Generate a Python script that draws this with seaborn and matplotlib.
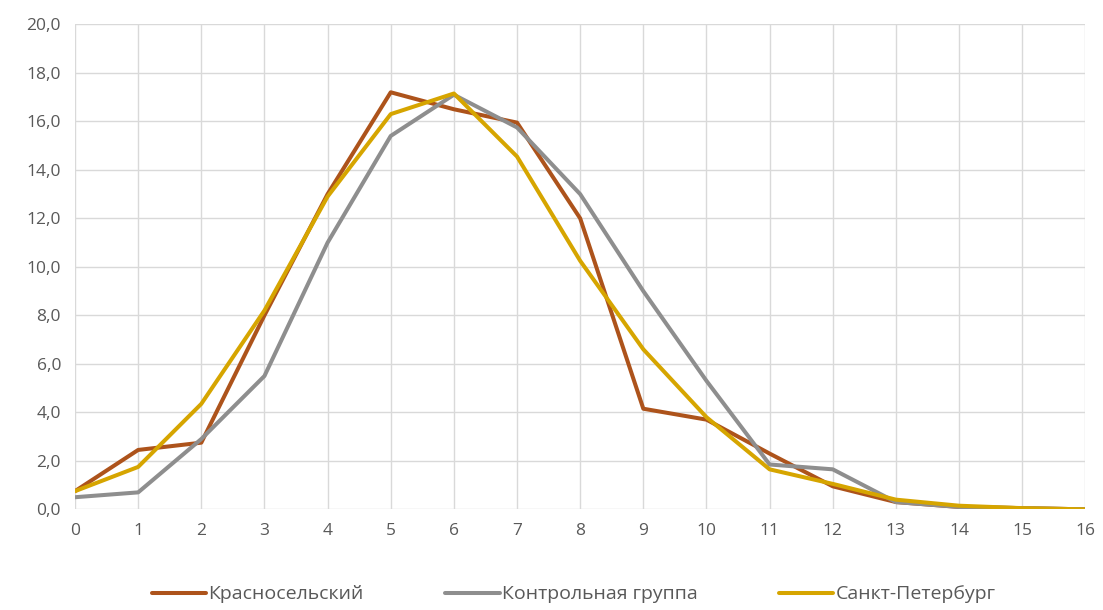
import pandas as pd
import matplotlib.pyplot as plt
import seaborn as sns
from matplotlib.ticker import FuncFormatter

# Данные
x_vals = list(range(17))
krasnoselsky = [0.75, 2.45, 2.75, 8.0, 13.0, 17.2, 16.5, 15.95, 12.0, 4.15, 3.7, 2.3, 0.95, 0.3, 0.1, 0.05, 0.0]
kontrol = [0.5, 0.7, 2.9, 5.5, 11.0, 15.4, 17.1, 15.75, 13.0, 9.0, 5.3, 1.85, 1.65, 0.3, 0.1, 0.05, 0.0]
spb = [0.75, 1.75, 4.35, 8.2, 12.9, 16.3, 17.15, 14.55, 10.25, 6.6, 3.8, 1.65, 1.05, 0.4, 0.15, 0.05, 0.0]

names = ['Красносельский', 'Контрольная группа', 'Санкт-Петербург']
colors = ['#AD531B', '#8E8E8E', '#D6A500']

df = pd.DataFrame({
    'x': x_vals * 3,
    'value': krasnoselsky + kontrol + spb,
    'series': [names[0]] * 17 + [names[1]] * 17 + [names[2]] * 17,
})

sns.set_style('white')
plt.rcParams['font.family'] = ['Open Sans', 'DejaVu Sans']

fig, ax = plt.subplots(figsize=(11.03, 6.10), dpi=100)
fig.subplots_adjust(left=0.068, right=0.984, top=0.96, bottom=0.165)

sns.lineplot(data=df, x='x', y='value', hue='series', hue_order=names,
             palette=colors, linewidth=2.9, ax=ax, legend=False)

ax.set_xlim(0, 16)
ax.set_ylim(0, 20)
ax.set_xticks(range(17))
ax.set_yticks([i * 2 for i in range(11)])
ax.yaxis.set_major_formatter(FuncFormatter(lambda v, p: f'{v:.1f}'.replace('.', ',')))
ax.grid(True, color='#D9D9D9', linewidth=1)
ax.set_axisbelow(True)
for s in ax.spines.values():
    s.set_visible(False)
ax.tick_params(axis='both', length=0, labelsize=12.5, colors='#595959', pad=10)
ax.set_xlabel('')
ax.set_ylabel('')

handles = [plt.Line2D([], [], color=c, linewidth=2.9) for c in colors]
fig.legend(handles, names, loc='lower center', ncol=3, frameon=False,
           bbox_to_anchor=(0.52, -0.018), fontsize=14, handlelength=2.8,
           handletextpad=0.1, columnspacing=4.2, labelcolor='#595959')

plt.savefig('out.png', dpi=100)
